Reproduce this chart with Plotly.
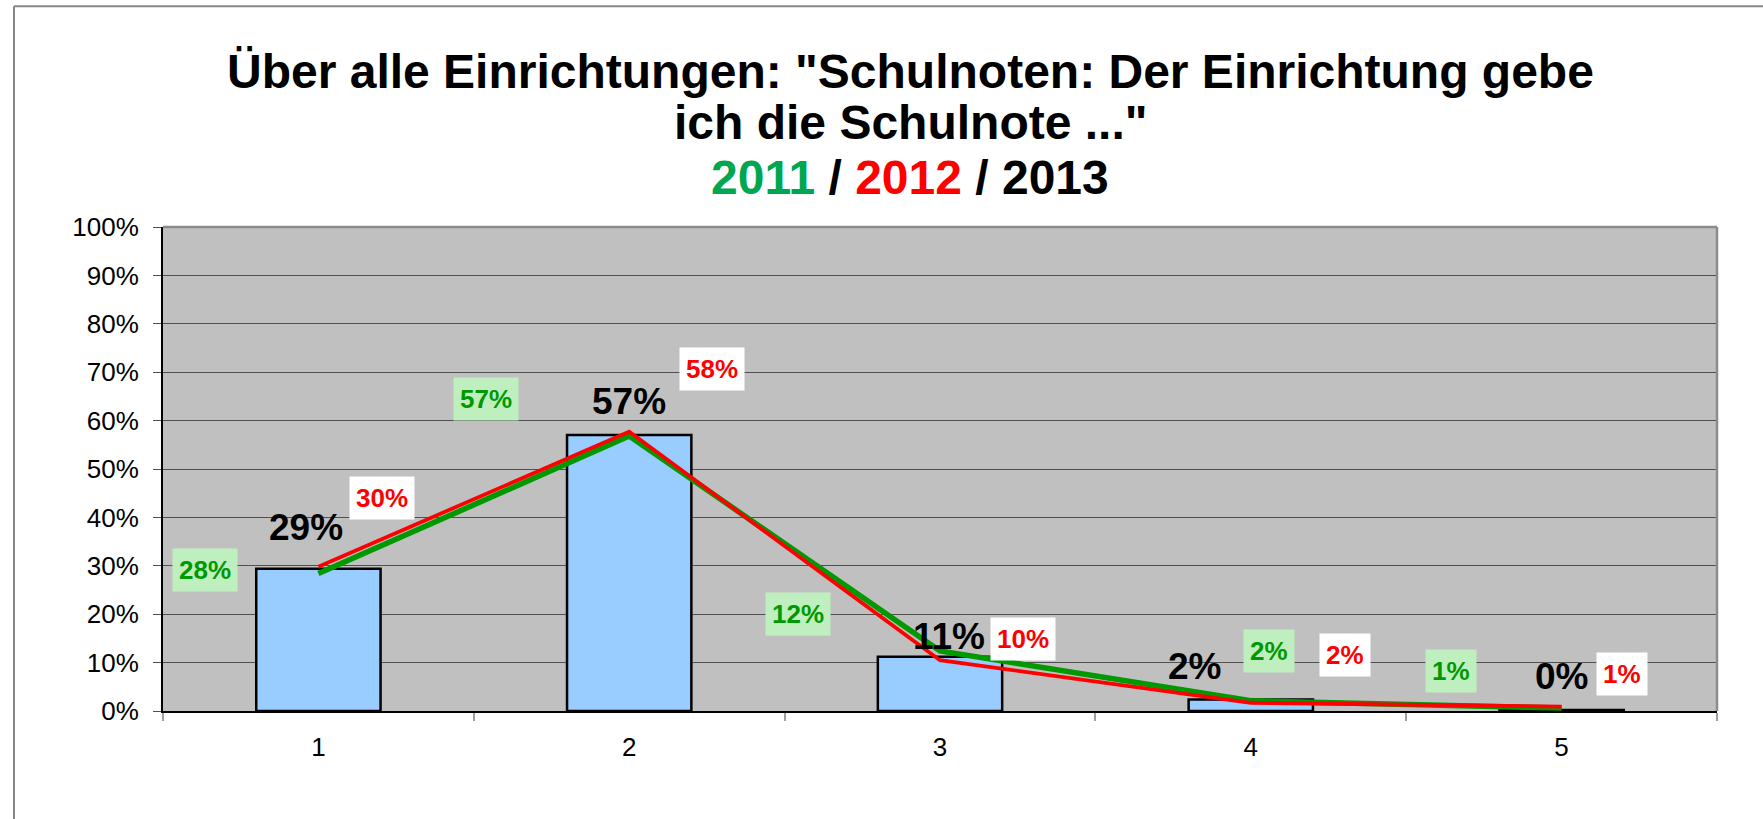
import plotly.graph_objects as go

# ---- data ----
categories = ["1", "2", "3", "4", "5"]
values_2013 = [0.294, 0.570, 0.112, 0.024, 0.002]
values_2011 = [0.284, 0.568, 0.124, 0.021, 0.006]
values_2012 = [0.298, 0.577, 0.105, 0.017, 0.009]
labels_2013 = ["29%", "57%", "11%", "2%", "0%"]
labels_2011 = ["28%", "57%", "12%", "2%", "1%"]
labels_2012 = ["30%", "58%", "10%", "2%", "1%"]
y_tick_values = [0, 0.1, 0.2, 0.3, 0.4, 0.5, 0.6, 0.7, 0.8, 0.9, 1.0]
y_tick_labels = ["0%", "10%", "20%", "30%", "40%", "50%", "60%", "70%", "80%", "90%", "100%"]
title_lines = [
    "Über alle Einrichtungen: \"Schulnoten: Der Einrichtung gebe",
    "ich die Schulnote ...\"",
    "<span style='color:#00A650'>2011</span> / <span style='color:#FF0000'>2012</span> / 2013",
]

# ---- label placement (category index, axis fraction) ----
pos_2013_x = [-0.04, 1.00, 2.03, 2.82, 4.00]
pos_2013_y = [0.380, 0.640, 0.154, 0.092, 0.072]
pos_2011_x = [-0.366, 0.539, 1.543, 3.059, 3.645]
pos_2011_y = [0.291, 0.644, 0.200, 0.123, 0.083]
pos_2012_x = [0.205, 1.266, 2.267, 3.303, 4.195]
pos_2012_y = [0.440, 0.707, 0.148, 0.115, 0.077]

FONT = "Liberation Sans, Arial, sans-serif"

fig = go.Figure()
fig.add_trace(go.Bar(
    x=categories, y=values_2013, name="2013",
    marker=dict(color="#99CCFF", line=dict(color="#000000", width=2.5)),
))
fig.add_trace(go.Scatter(
    x=categories, y=values_2011, mode="lines", name="2011",
    line=dict(color="#009900", width=5.5),
))
fig.add_trace(go.Scatter(
    x=categories, y=values_2012, mode="lines", name="2012",
    line=dict(color="#FF0000", width=3.8),
))

annotations = []
for t, x, y in zip(labels_2013, pos_2013_x, pos_2013_y):
    annotations.append(dict(x=x, y=y, xref="x", yref="y", text=f"<b>{t}</b>", showarrow=False,
                            font=dict(family=FONT, size=37, color="#000000")))
for t, x, y in zip(labels_2011, pos_2011_x, pos_2011_y):
    annotations.append(dict(x=x, y=y, xref="x", yref="y", text=f"<b>{t}</b>", showarrow=False,
                            font=dict(family=FONT, size=26, color="#009900"),
                            bgcolor="#BFEFBF", borderpad=6))
for t, x, y in zip(labels_2012, pos_2012_x, pos_2012_y):
    annotations.append(dict(x=x, y=y, xref="x", yref="y", text=f"<b>{t}</b>", showarrow=False,
                            font=dict(family=FONT, size=26, color="#FF0000"),
                            bgcolor="#FFFFFF", borderpad=6))

# title lines (pixel centers converted to paper coords)
L, R, T, B = 163, 1717, 227, 710.6
PW, PH = R - L, B - T
title_centers_px = [72, 122.5, 177.5]
for txt, cy in zip(title_lines, title_centers_px):
    annotations.append(dict(x=(910 - L) / PW, y=(B - cy) / PH, xref="paper", yref="paper",
                            text=f"<b>{txt}</b>", showarrow=False, xanchor="center", yanchor="middle",
                            font=dict(family=FONT, size=48, color="#000000")))

shapes = [
    # outer chart frame (top and left visible)
    dict(type="line", xref="paper", yref="paper", x0=(14 - L) / PW, x1=(1800 - L) / PW,
         y0=(B - 6.5) / PH, y1=(B - 6.5) / PH, line=dict(color="#888888", width=2)),
    dict(type="line", xref="paper", yref="paper", x0=(14 - L) / PW, x1=(14 - L) / PW,
         y0=(B - 6.5) / PH, y1=(B - 840) / PH, line=dict(color="#888888", width=2)),
    # plot-area border top and right
    dict(type="line", xref="paper", yref="paper", x0=0, x1=1, y0=1, y1=1,
         line=dict(color="#8C8C8C", width=2.5)),
    dict(type="line", xref="paper", yref="paper", x0=1, x1=1, y0=0, y1=1,
         line=dict(color="#8C8C8C", width=2.5)),
]

fig.update_layout(
    width=1763, height=819,
    margin=dict(l=L, r=1763 - R, t=T, b=819 - B, pad=0),
    paper_bgcolor="#FFFFFF", plot_bgcolor="#C0C0C0",
    showlegend=False, bargap=0.6, hovermode=False,
    annotations=annotations, shapes=shapes,
    font=dict(family=FONT, color="#000000"),
)
fig.update_xaxes(
    type="category", range=[-0.5, 4.5], showgrid=False, zeroline=False,
    showline=True, linecolor="#000000", linewidth=2,
    ticks="outside", tickson="boundaries", ticklen=8, tickcolor="#A0A0A0", tickwidth=1.5,
    tickfont=dict(family=FONT, size=26, color="#000000"), ticklabelstandoff=12,
)
fig.update_yaxes(
    range=[0, 1], tickvals=y_tick_values, ticktext=y_tick_labels,
    showgrid=True, gridcolor="#505050", gridwidth=1.2, zeroline=False,
    showline=True, linecolor="#000000", linewidth=2,
    ticks="outside", ticklen=8, tickcolor="#505050", tickwidth=1.2,
    tickfont=dict(family=FONT, size=26, color="#000000"), ticklabelstandoff=9,
)

fig.write_html(
    "out.html",
    config={"displayModeBar": False},
    post_script="document.body.style.margin='0px';document.body.style.overflow='hidden';",
)
